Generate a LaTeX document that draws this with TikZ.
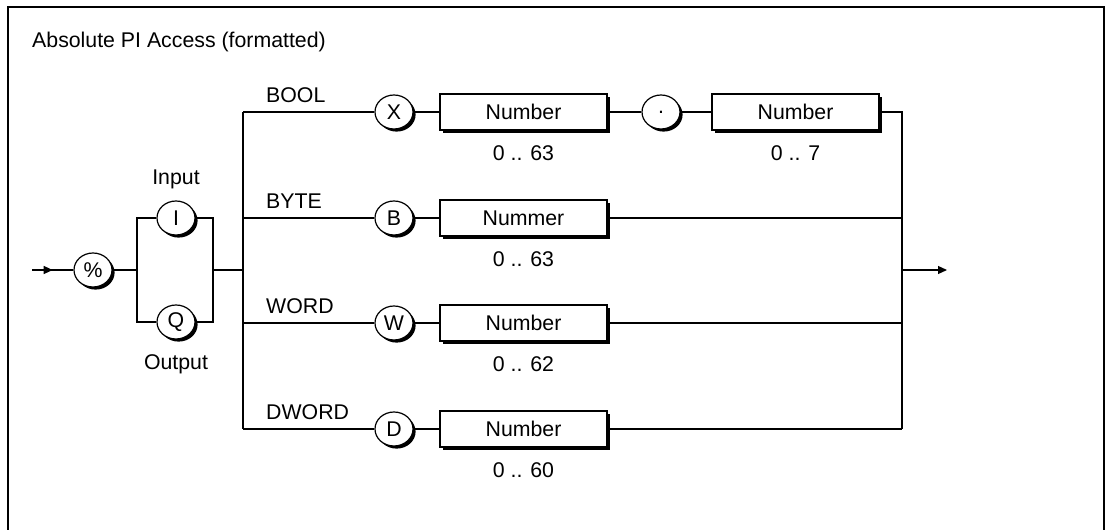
\documentclass[tikz,border=0pt]{standalone}
\usepackage{fontspec}
\setmainfont{Liberation Sans}
\usepackage{tikz}
\usetikzlibrary{shapes.geometric, shadows, arrows.meta, decorations.markings}
\tikzset{
  term/.style={ellipse, draw, fill=white, line width=1.2pt, minimum width=38pt, minimum height=34pt, inner sep=0pt,
    drop shadow={shadow xshift=2.6pt, shadow yshift=-2.6pt, fill=black, opacity=1}},
  numbox/.style={rectangle, draw, fill=white, line width=1.2pt, minimum width=167pt, minimum height=36pt, inner sep=0pt,
    drop shadow={shadow xshift=2.6pt, shadow yshift=-2.6pt, fill=black, opacity=1}},
  lbl/.style={inner sep=0pt},
  wire/.style={line width=1.2pt},
  midtip/.style={postaction={decorate}, decoration={markings,
    mark=at position 0.5 with {\arrow{Triangle[length=9pt, width=8pt]}}}}
}

\begin{document}
\begin{tikzpicture}[x=1pt, y=-1pt, font=\fontsize{21.3}{25}\selectfont]
  \useasboundingbox (0,0) rectangle (1111,530);
  \draw[line width=2pt] (8,532) -- (8,7) -- (1104,7) -- (1104,532);
  \node[lbl, anchor=base west] (title) at (32,47) {Absolute PI Access (formatted)};

  \coordinate (start) at (32,270);
  \node[term] (pct) at (93,270) {\%};
  \coordinate (ls) at (137,270);
  \coordinate (lsI) at (137,218);
  \coordinate (lsQ) at (137,322);
  \node[term] (inI) at (176,218) {I};
  \node[term] (outQ) at (176,322) {Q};
  \coordinate (rsI) at (213,218);
  \coordinate (rsQ) at (213,322);
  \coordinate (rs) at (213,270);
  \node[lbl, anchor=base] (inputlbl) at (176,184) {Input};
  \node[lbl, anchor=base] (outputlbl) at (176,369) {Output};

  \coordinate (lb1) at (243,112);
  \coordinate (lb2) at (243,218);
  \coordinate (lbm) at (243,270);
  \coordinate (lb3) at (243,323);
  \coordinate (lb4) at (243,429);
  \coordinate (rb1) at (902,112);
  \coordinate (rb2) at (902,218);
  \coordinate (rbm) at (902,270);
  \coordinate (rb3) at (902,323);
  \coordinate (rb4) at (902,429);
  \coordinate (finish) at (947,270);

  \node[lbl, anchor=base west] (boollbl) at (266,102) {BOOL};
  \node[lbl, anchor=base west] (bytelbl) at (266,208) {BYTE};
  \node[lbl, anchor=base west] (wordlbl) at (266,313) {WORD};
  \node[lbl, anchor=base west] (dwordlbl) at (266,419) {DWORD};

  \node[term] (tx) at (394,112) {X};
  \node[numbox] (num1) at (523.5,112) {Number};
  \node[term] (tdot) at (661,112) {.};
  \node[numbox] (num2) at (795.5,112) {Number};
  \node[term] (tb) at (394,218) {B};
  \node[numbox] (num3) at (523.5,218) {Nummer};
  \node[term] (tw) at (394,323) {W};
  \node[numbox] (num4) at (523.5,323) {Number};
  \node[term] (td) at (394,429) {D};
  \node[numbox] (num5) at (523.5,429) {Number};

  \node[lbl, anchor=base] (rng1) at (523.5,160) {0 .. 63};
  \node[lbl, anchor=base] (rng2) at (795.5,160) {0 .. 7};
  \node[lbl, anchor=base] (rng3) at (523.5,266) {0 .. 63};
  \node[lbl, anchor=base] (rng4) at (523.5,371) {0 .. 62};
  \node[lbl, anchor=base] (rng5) at (523.5,477) {0 .. 60};

  \draw[wire, midtip] (start) -- (pct);
  \draw[wire] (pct) -- (ls);
  \draw[wire] (inI) -- (lsI) -- (lsQ) -- (outQ);
  \draw[wire] (inI) -- (rsI) -- (rsQ) -- (outQ);
  \draw[wire] (rs) -- (lbm);
  \draw[wire] (lb1) -- (lb4);
  \draw[wire] (lb1) -- (tx) -- (num1) -- (tdot) -- (num2) -- (rb1) -- (rb4);
  \draw[wire] (lb2) -- (tb) -- (num3) -- (rb2);
  \draw[wire] (lb3) -- (tw) -- (num4) -- (rb3);
  \draw[wire] (lb4) -- (td) -- (num5) -- (rb4);
  \draw[wire, -{Triangle[length=9pt, width=8pt]}] (rbm) -- (finish);
\end{tikzpicture}
\end{document}
